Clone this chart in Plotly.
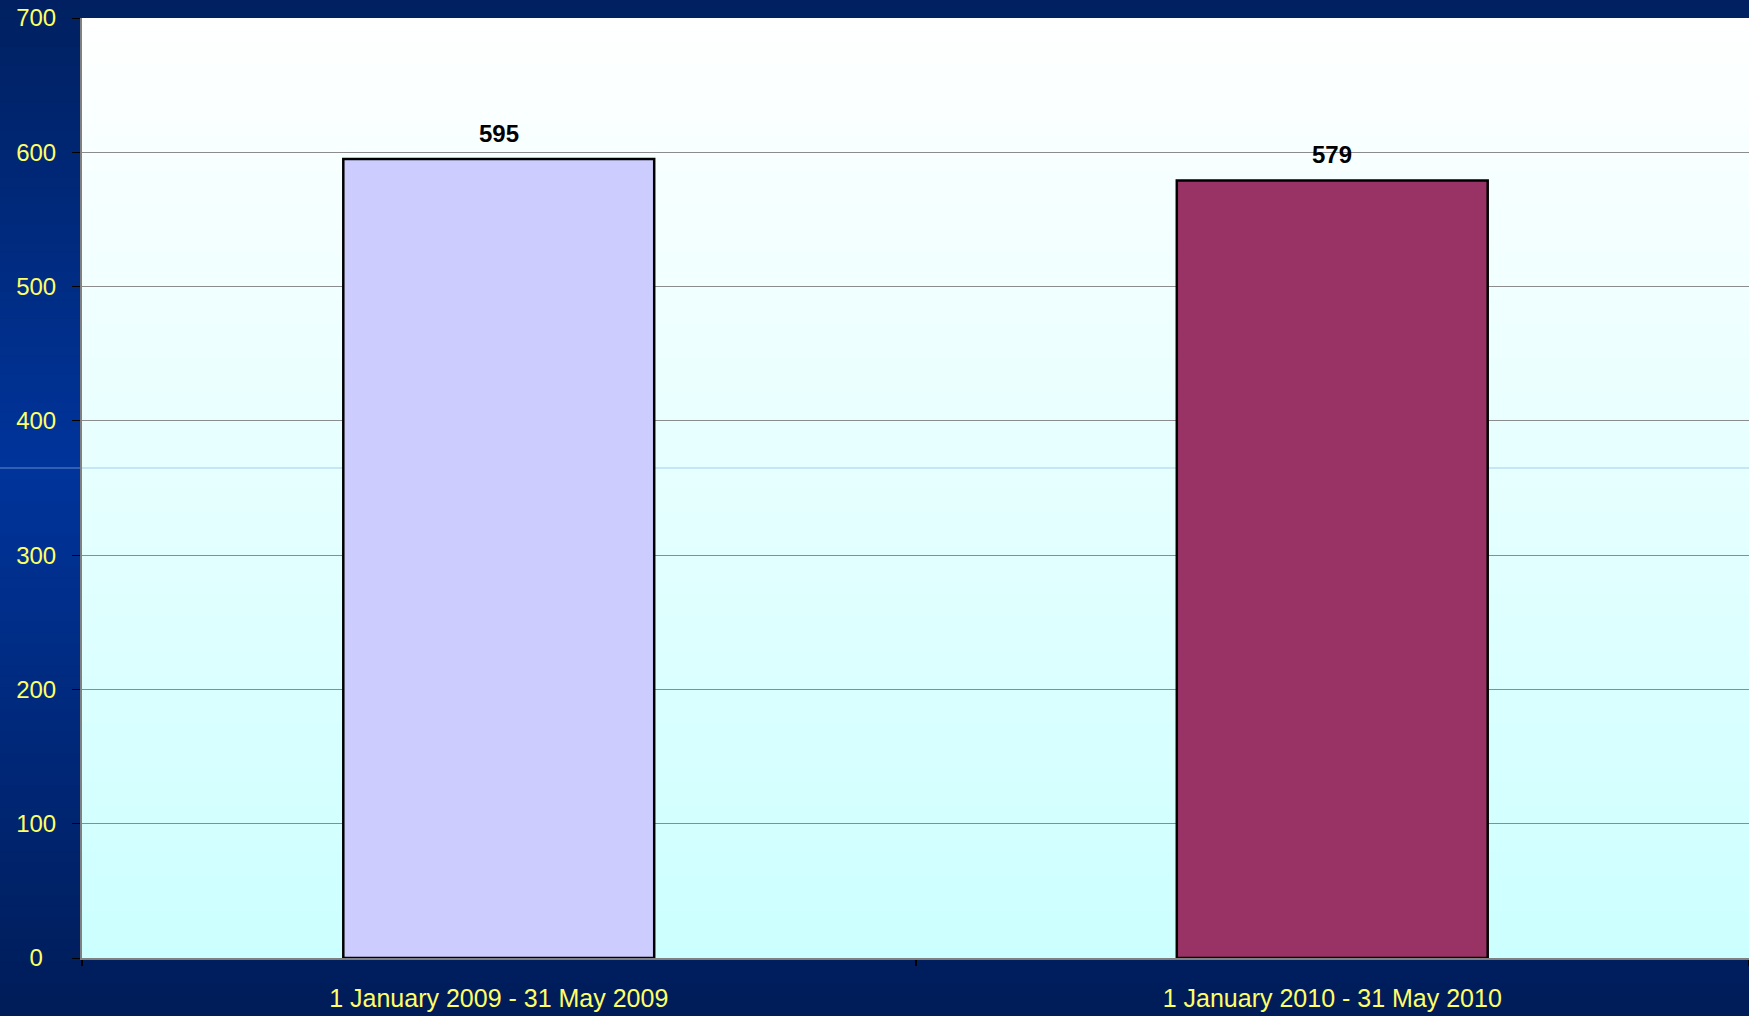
import plotly.graph_objects as go

categories = ["1 January 2009 - 31 May 2009", "1 January 2010 - 31 May 2010"]
values = [595, 579]
bar_colors = ["#CCCCFF", "#993366"]
y_tickvals = [0, 100, 200, 300, 400, 500, 600, 700]
y_ticktext = ["0\u00a0\u00a0", "100", "200", "300", "400", "500", "600", "700"]

W, H = 1749, 1016
L, T, B = 82, 18, 58
PW, PH = W - L, H - T - B

def py(p):  # pixel row -> paper y
    return (H - B - p) / PH

def px(q):
    return (q - L) / PW

def lerp(c1, c2, t):
    return "rgb(%d,%d,%d)" % tuple(round(a + (b - a) * t) for a, b in zip(c1, c2))

shapes = []
# paper gradient (two halves)
mid = 468
top_c, mid_c, bot_c = (0, 32, 96), (0, 52, 155), (0, 28, 88)
n = 50
for i in range(n):
    p0 = mid * i / n
    p1 = mid * (i + 1) / n + 0.6
    shapes.append(dict(type="rect", xref="paper", yref="paper", x0=px(0), x1=px(W),
                       y0=py(p1), y1=py(p0), line_width=0, layer="below",
                       fillcolor=lerp(top_c, mid_c, (i + 0.5) / n)))
for i in range(n):
    p0 = mid + (H - mid) * i / n
    p1 = mid + (H - mid) * (i + 1) / n + 0.6
    shapes.append(dict(type="rect", xref="paper", yref="paper", x0=px(0), x1=px(W),
                       y0=py(p1), y1=py(p0), line_width=0, layer="below",
                       fillcolor=lerp(mid_c, bot_c, (i + 0.5) / n)))
# plot area gradient white -> light cyan
m = 80
for i in range(m):
    shapes.append(dict(type="rect", xref="paper", yref="paper", x0=0, x1=1,
                       y0=1 - (i + 1) / m - 0.001, y1=1 - i / m, line_width=0, layer="below",
                       fillcolor=lerp((255, 255, 255), (204, 255, 255), (i + 0.5) / m)))
# faint slide seam line
shapes.append(dict(type="line", xref="paper", yref="paper", x0=px(0), x1=px(L),
                   y0=py(mid), y1=py(mid), line=dict(color="rgba(120,160,220,0.8)", width=1), layer="below"))
shapes.append(dict(type="line", xref="paper", yref="paper", x0=0, x1=1,
                   y0=py(mid), y1=py(mid), line=dict(color="rgba(150,190,230,0.8)", width=1), layer="below"))

fig = go.Figure()
fig.add_trace(go.Bar(
    x=categories, y=values,
    marker=dict(color=bar_colors, line=dict(color="black", width=2.5)),
    hoverinfo="skip",
))

annotations = [dict(x=c, y=v, text="<b>%d</b>" % v, showarrow=False, yanchor="bottom",
                    yshift=10, font=dict(family="Liberation Sans, Arial", size=24, color="black"))
               for c, v in zip(categories, values)]

fig.update_layout(
    width=W, height=H,
    margin=dict(l=L, r=0, t=T, b=B, pad=0),
    paper_bgcolor="#00205F",
    plot_bgcolor="rgba(0,0,0,0)",
    bargap=0.627,
    showlegend=False,
    shapes=shapes,
    annotations=annotations,
    font=dict(family="Liberation Sans, Arial", size=24, color="#FFFF66"),
)
fig.update_xaxes(
    range=[-0.5, 1.5], tickson="boundaries", ticks="outside", ticklen=6,
    tickcolor="black", tickwidth=1.5, showline=True, linecolor="#808080", linewidth=2,
    showgrid=False, zeroline=False, ticklabelstandoff=17,
    tickfont=dict(color="#FFFF66", size=25),
)
fig.update_yaxes(
    range=[0, 700], tickvals=y_tickvals, ticktext=y_ticktext,
    ticks="outside", ticklen=8, tickcolor="black", tickwidth=1,
    showline=True, linecolor="#808080", linewidth=2,
    showgrid=True, gridcolor="#8C8C8C", gridwidth=1, zeroline=False,
    ticklabelstandoff=11, tickfont=dict(color="#FFFF66", size=24),
)

fig.write_html("out.html", config={"displayModeBar": False},
               post_script="document.body.style.margin='0';")
